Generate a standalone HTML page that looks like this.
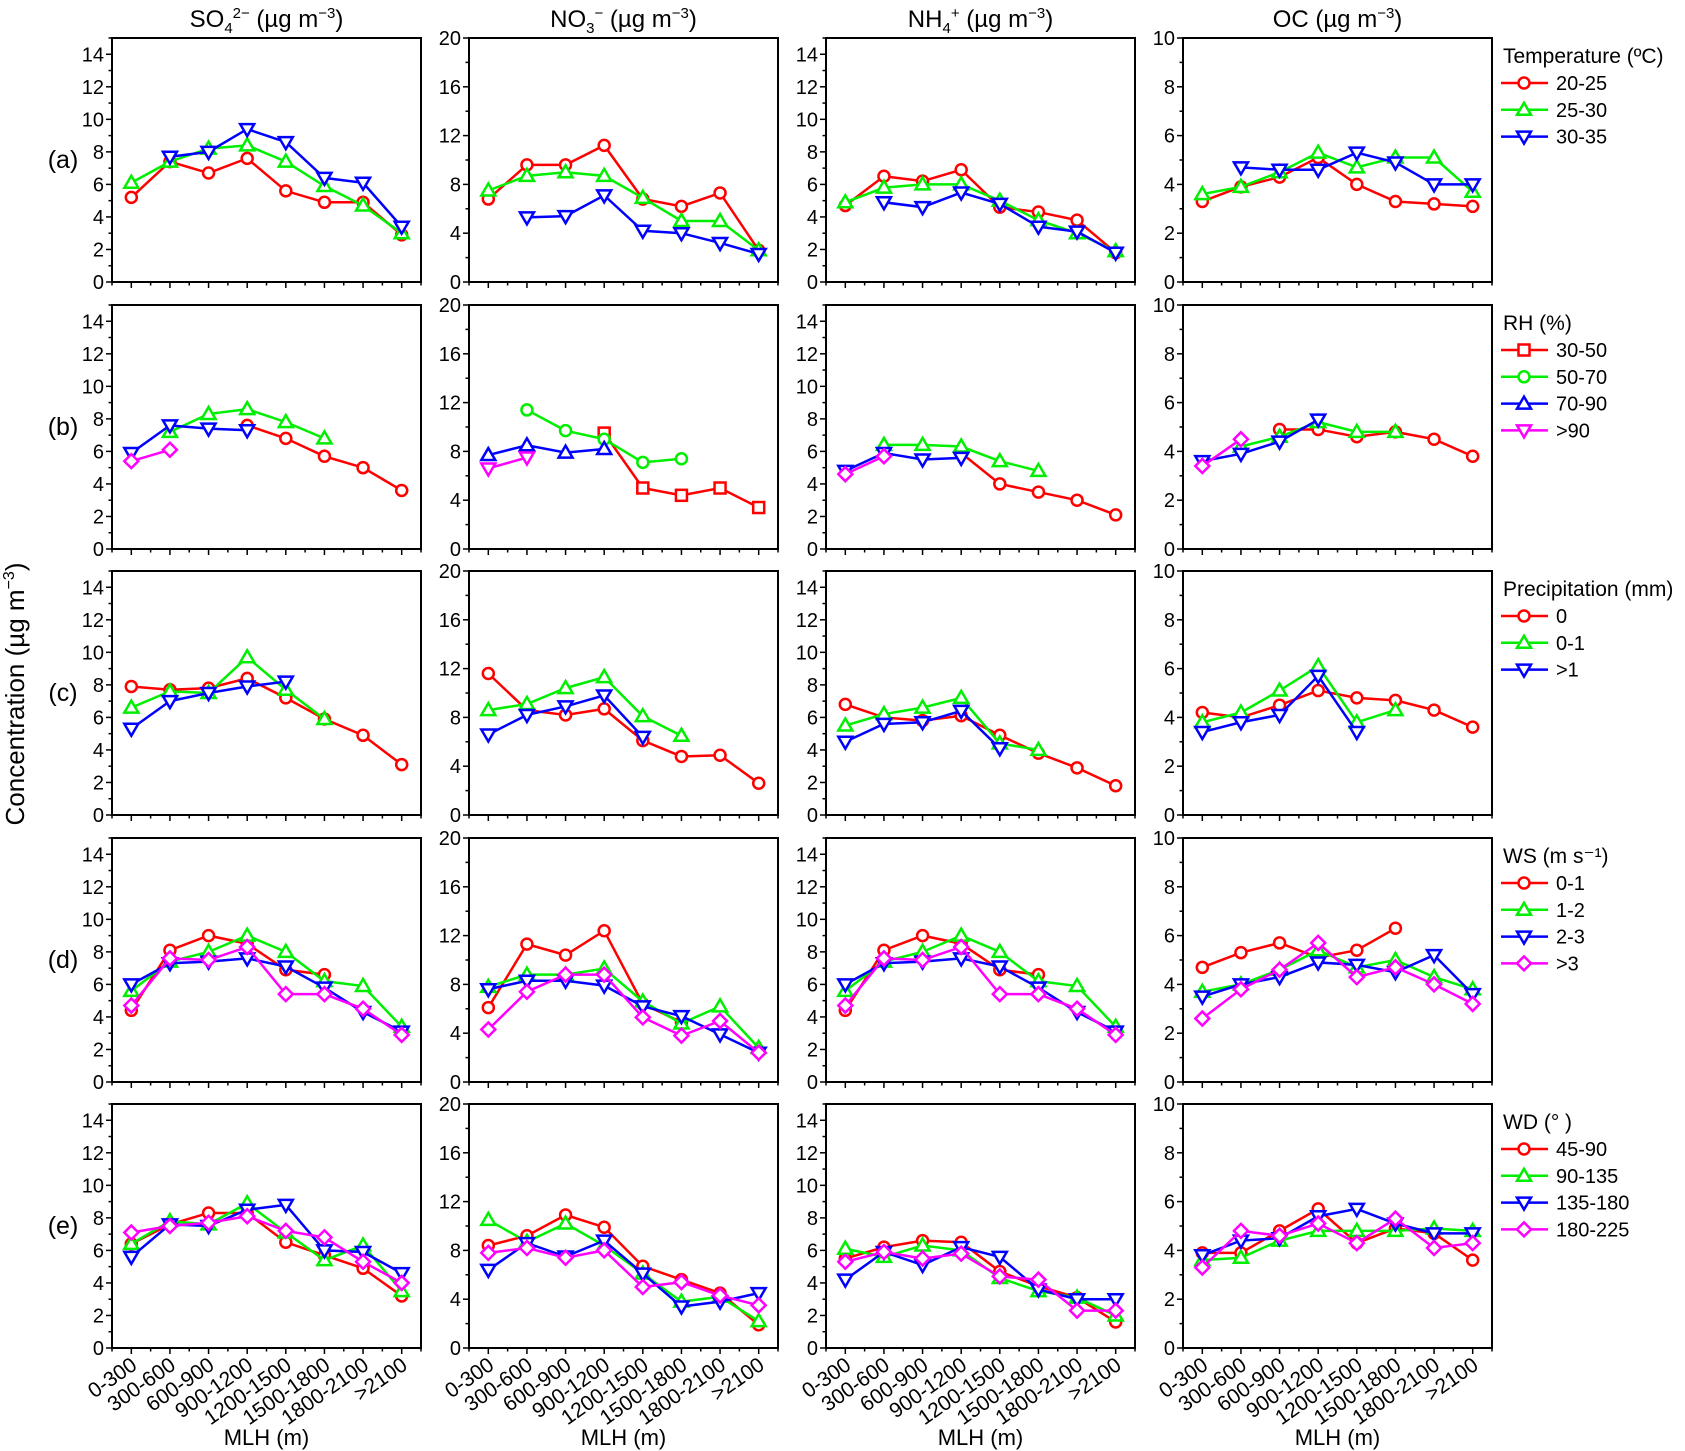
<!DOCTYPE html>
<html><head><meta charset="utf-8">
<style>
html,body{margin:0;padding:0;background:#fff;}
svg{display:block;font-family:"Liberation Sans",Arial,sans-serif;}
</style></head>
<body>
<svg id="fig" width="1685" height="1451" viewBox="0 0 1685 1451" xmlns="http://www.w3.org/2000/svg"></svg>
<script>
const categories = ["0-300","300-600","600-900","900-1200","1200-1500","1500-1800","1800-2100",">2100"];
const N = null;
// Row a: temperature
const a_so4_1 = [5.2,7.4,6.7,7.6,5.6,4.9,4.9,2.9];
const a_so4_2 = [6.1,7.4,8.2,8.4,7.4,5.9,4.7,3.0];
const a_so4_3 = [N,7.7,8.0,9.4,8.6,6.4,6.1,3.4];
const a_no3_1 = [6.8,9.6,9.6,11.2,6.8,6.2,7.3,2.6];
const a_no3_2 = [7.5,8.7,9.0,8.7,6.9,5.0,5.0,2.6];
const a_no3_3 = [N,5.3,5.4,7.1,4.2,4.0,3.2,2.3];
const a_nh4_1 = [4.7,6.5,6.2,6.9,4.6,4.3,3.8,1.8];
const a_nh4_2 = [4.9,5.8,6.0,6.0,5.0,3.8,3.0,1.9];
const a_nh4_3 = [N,4.9,4.6,5.5,4.8,3.4,3.1,1.8];
const a_oc_1 = [3.3,3.9,4.3,5.1,4.0,3.3,3.2,3.1];
const a_oc_2 = [3.6,3.9,4.5,5.3,4.7,5.1,5.1,3.7];
const a_oc_3 = [N,4.7,4.6,4.6,5.3,4.9,4.0,4.0];
// Row b: RH
const b_so4_1 = [N,N,N,7.6,6.8,5.7,5.0,3.6];
const b_so4_2 = [N,7.2,8.3,8.6,7.8,6.8,N,N];
const b_so4_3 = [5.9,7.6,7.4,7.3,N,N,N,N];
const b_so4_4 = [5.4,6.1,N,N,N,N,N,N];
const b_no3_1 = [N,N,N,9.5,5.0,4.4,5.0,3.4];
const b_no3_2 = [N,11.4,9.7,9.0,7.1,7.4,N,N];
const b_no3_3 = [7.7,8.5,7.9,8.2,N,N,N,N];
const b_no3_4 = [6.6,7.5,N,N,N,N,N,N];
const b_nh4_1 = [N,N,N,5.9,4.0,3.5,3.0,2.1];
const b_nh4_2 = [N,6.4,6.4,6.3,5.4,4.8,N,N];
const b_nh4_3 = [4.8,5.9,5.5,5.6,N,N,N,N];
const b_nh4_4 = [4.6,5.7,N,N,N,N,N,N];
const b_oc_1 = [N,N,4.9,4.9,4.6,4.8,4.5,3.8];
const b_oc_2 = [N,4.2,4.6,5.2,4.8,4.8,N,N];
const b_oc_3 = [3.6,3.9,4.4,5.3,N,N,N,N];
const b_oc_4 = [3.4,4.5,N,N,N,N,N,N];
// Row c: precipitation
const c_so4_1 = [7.9,7.7,7.8,8.4,7.2,5.9,4.9,3.1];
const c_so4_2 = [6.6,7.6,7.5,9.7,7.7,5.9,N,N];
const c_so4_3 = [5.3,7.0,7.5,7.9,8.2,N,N,N];
const c_no3_1 = [11.6,8.6,8.2,8.7,6.1,4.8,4.9,2.6];
const c_no3_2 = [8.6,9.1,10.4,11.3,8.1,6.5,N,N];
const c_no3_3 = [6.6,8.2,8.9,9.8,6.4,N,N,N];
const c_nh4_1 = [6.8,6.0,5.8,6.1,4.9,3.8,2.9,1.8];
const c_nh4_2 = [5.5,6.2,6.6,7.2,4.4,4.0,N,N];
const c_nh4_3 = [4.5,5.6,5.7,6.4,4.1,N,N,N];
const c_oc_1 = [4.2,4.0,4.5,5.1,4.8,4.7,4.3,3.6];
const c_oc_2 = [3.8,4.2,5.1,6.1,3.8,4.3,N,N];
const c_oc_3 = [3.4,3.8,4.1,5.7,3.4,N,N,N];
// Row d: wind speed
const d_so4_1 = [4.4,8.1,9.0,8.5,6.9,6.6,N,N];
const d_so4_2 = [5.6,7.4,8.0,9.0,8.0,6.2,5.9,3.4];
const d_so4_3 = [6.0,7.3,7.4,7.6,7.1,5.8,4.3,3.1];
const d_so4_4 = [4.7,7.6,7.5,8.3,5.4,5.4,4.5,2.9];
const d_no3_1 = [6.1,11.3,10.4,12.4,6.4,4.9,N,N];
const d_no3_2 = [7.8,8.8,8.8,9.3,6.6,4.8,6.2,2.8];
const d_no3_3 = [7.6,8.3,8.3,7.9,6.2,5.4,3.9,2.4];
const d_no3_4 = [4.3,7.4,8.8,8.8,5.3,3.8,5.0,2.4];
const d_nh4_1 = [4.4,8.1,9.0,8.5,6.9,6.6,N,N];
const d_nh4_2 = [5.6,7.4,8.0,9.0,8.0,6.2,5.9,3.4];
const d_nh4_3 = [6.0,7.3,7.4,7.6,7.1,5.8,4.3,3.1];
const d_nh4_4 = [4.7,7.6,7.5,8.3,5.4,5.4,4.5,2.9];
const d_oc_1 = [4.7,5.3,5.7,5.1,5.4,6.3,N,N];
const d_oc_2 = [3.7,4.0,4.6,5.4,4.7,5.0,4.3,3.8];
const d_oc_3 = [3.5,4.0,4.3,4.9,4.8,4.5,5.2,3.6];
const d_oc_4 = [2.6,3.8,4.6,5.7,4.3,4.7,4.0,3.2];
// Row e: wind direction
const e_so4_1 = [6.4,7.6,8.3,8.3,6.5,5.7,4.9,3.2];
const e_so4_2 = [6.4,7.8,7.6,8.9,7.1,5.4,6.3,3.5];
const e_so4_3 = [5.6,7.6,7.5,8.5,8.8,6.0,5.9,4.6];
const e_so4_4 = [7.1,7.5,7.7,8.1,7.2,6.8,5.3,4.0];
const e_no3_1 = [8.4,9.2,10.9,9.9,6.7,5.6,4.5,1.9];
const e_no3_2 = [10.5,8.7,10.2,8.4,6.1,3.8,4.2,2.2];
const e_no3_3 = [6.4,8.6,7.5,8.8,6.1,3.4,3.8,4.5];
const e_no3_4 = [7.8,8.2,7.4,8.0,5.0,5.4,4.3,3.5];
const e_nh4_1 = [5.5,6.2,6.6,6.5,4.7,3.8,3.1,1.6];
const e_nh4_2 = [6.1,5.6,6.3,6.0,4.3,3.5,3.1,2.0];
const e_nh4_3 = [4.2,5.9,5.1,6.2,5.6,3.6,3.0,3.0];
const e_nh4_4 = [5.3,5.9,5.5,5.8,4.4,4.2,2.3,2.3];
const e_oc_1 = [3.9,3.9,4.8,5.7,4.3,4.9,4.7,3.6];
const e_oc_2 = [3.6,3.7,4.4,4.8,4.8,4.8,4.9,4.8];
const e_oc_3 = [3.8,4.4,4.5,5.4,5.7,5.1,4.7,4.7];
const e_oc_4 = [3.3,4.8,4.6,5.1,4.3,5.3,4.1,4.3];

const yMaxes = [15,20,15,10];
const yTickStep = [2,4,2,2];
const yTickTop = [14,20,14,10];
const rowLetters = ["(a)","(b)","(c)","(d)","(e)"];
const legendTitles = ["Temperature (ºC)","RH (%)","Precipitation (mm)","WS (m s\u207B\u00B9)","WD (° )"];
const legendLabels = [["20-25","25-30","30-35"],["30-50","50-70","70-90",">90"],["0","0-1",">1"],["0-1","1-2","2-3",">3"],["45-90","90-135","135-180","180-225"]];

const COLORS=["#ff0000","#00ee00","#0000ff","#ff00ff"];
const colL=[112,469,826,1183], W=309;
const rowT=[38,305,571,838,1104], H=244;
const svg=document.getElementById('fig');
const NS="http://www.w3.org/2000/svg";
function mk(tag,attrs,parent){const e=document.createElementNS(NS,tag);for(const k in attrs)e.setAttribute(k,attrs[k]);(parent||svg).appendChild(e);return e;}

function marker(g,shape,x,y,color){
  const r=5.5;let m;
  if(shape==='o') m=mk('circle',{cx:x,cy:y,r:r},g);
  else if(shape==='s') m=mk('rect',{x:x-r,y:y-r,width:2*r,height:2*r},g);
  else if(shape==='u') m=mk('polygon',{points:`${x},${y-7} ${x-7},${y+5} ${x+7},${y+5}`},g);
  else if(shape==='d') m=mk('polygon',{points:`${x},${y+7} ${x-7},${y-5} ${x+7},${y-5}`},g);
  else m=mk('polygon',{points:`${x},${y-7} ${x+7},${y} ${x},${y+7} ${x-7},${y}`},g);
  m.setAttribute('fill','#fff');m.setAttribute('stroke',color);m.setAttribute('stroke-width','2.5');
  return m;
}

const panels=[
 [[a_so4_1,a_so4_2,a_so4_3],[a_no3_1,a_no3_2,a_no3_3],[a_nh4_1,a_nh4_2,a_nh4_3],[a_oc_1,a_oc_2,a_oc_3]],
 [[b_so4_1,b_so4_2,b_so4_3,b_so4_4],[b_no3_1,b_no3_2,b_no3_3,b_no3_4],[b_nh4_1,b_nh4_2,b_nh4_3,b_nh4_4],[b_oc_1,b_oc_2,b_oc_3,b_oc_4]],
 [[c_so4_1,c_so4_2,c_so4_3],[c_no3_1,c_no3_2,c_no3_3],[c_nh4_1,c_nh4_2,c_nh4_3],[c_oc_1,c_oc_2,c_oc_3]],
 [[d_so4_1,d_so4_2,d_so4_3,d_so4_4],[d_no3_1,d_no3_2,d_no3_3,d_no3_4],[d_nh4_1,d_nh4_2,d_nh4_3,d_nh4_4],[d_oc_1,d_oc_2,d_oc_3,d_oc_4]],
 [[e_so4_1,e_so4_2,e_so4_3,e_so4_4],[e_no3_1,e_no3_2,e_no3_3,e_no3_4],[e_nh4_1,e_nh4_2,e_nh4_3,e_nh4_4],[e_oc_1,e_oc_2,e_oc_3,e_oc_4]]
];
const rowShapes=[["o","u","d"],["o","u","d","D"],["o","u","d"],["o","u","d","D"],["o","u","d","D"]];
const legShapes=[["o","u","d"],["s","o","u","d"],["o","u","d"],["o","u","d","D"],["o","u","d","D"]];
const noShapesB=["s","o","u","d"];

const colNames=["so4","no3","nh4","oc"];
for(let r=0;r<5;r++){
  for(let c=0;c<4;c++){
    const L=colL[c],T=rowT[r],B=T+H,R=L+W,ymax=yMaxes[c];
    const xs=i=>L+(i+0.5)*W/categories.length;
    const ys=v=>B-v/ymax*H;
    const g=mk('g',{});
    
    
    const st=yTickStep[c];
    for(let v=0;v<=ymax;v+=st/2){
      const y=ys(v);const major=Math.abs(v/st-Math.round(v/st))<1e-9;
      mk('line',{x1:L,x2:L-(major?6:3.5),y1:y,y2:y,stroke:'#000','stroke-width':1.5},g);
      if(major&&v<=yTickTop[c]){const t=mk('text',{x:L-8,y:y+7,'text-anchor':'end','font-size':20},g);t.textContent=v;
        }
    }
    for(let i=0;i<categories.length;i++){
      const x=xs(i);mk('line',{x1:x,x2:x,y1:B,y2:B+6,stroke:'#000','stroke-width':1.5},g);
    }
    for(let i=0;i<=categories.length;i++){
      const x=L+i*W/categories.length;mk('line',{x1:x,x2:x,y1:B,y2:B+3.5,stroke:'#000','stroke-width':1.5},g);
    }
    if(r===4){
      for(let i=0;i<categories.length;i++){
        const x=xs(i)+7,y=B+20;
        const t=mk('text',{x:x,y:y,'text-anchor':'end','font-size':21,transform:`rotate(-35 ${x} ${y})`},g);
        t.textContent=categories[i];
        
      }
      const t=mk('text',{x:L+W/2,y:1445,'text-anchor':'middle','font-size':22},g);t.textContent='MLH (m)';
      
    }
    const series=panels[r][c];
    const shapes=(r===1&&c===1)?noShapesB:rowShapes[r];
    series.forEach((arr,si)=>{
      const sg=mk('g',{},g);
      
      
      let seg=[];const segs=[];
      arr.forEach((v,i)=>{if(v===null){if(seg.length)segs.push(seg);seg=[];}else seg.push([xs(i),ys(v)]);});
      if(seg.length)segs.push(seg);
      segs.forEach(s=>mk('polyline',{points:s.map(p=>p.join(',')).join(' '),fill:'none',stroke:COLORS[si],'stroke-width':2.5},sg));
      arr.forEach((v,i)=>{if(v!==null){const m=marker(sg,shapes[si],xs(i),ys(v),COLORS[si]);
        }});
    });
    mk('rect',{x:L,y:T,width:W,height:H,fill:'none',stroke:'#000','stroke-width':2},g);
  }
  const rl=mk('text',{x:63,y:rowT[r]+H*0.5+8,'text-anchor':'middle','font-size':25});
  rl.textContent=rowLetters[r];
  
  const lg=mk('g',{});
  
  
  const lt=mk('text',{x:1503,y:rowT[r]+25,'font-size':21},lg);lt.textContent=legendTitles[r];
  
  legendLabels[r].forEach((lab,i)=>{
    const y=rowT[r]+45+i*26.8;
    const e=mk('g',{},lg);
    
    
    mk('line',{x1:1501,x2:1548,y1:y,y2:y,stroke:COLORS[i],'stroke-width':2.5},e);
    marker(e,legShapes[r][i],1524,y,COLORS[i]);
    const t=mk('text',{x:1556,y:y+7,'font-size':20},e);t.textContent=lab;
  });
}
const titles=[["SO","4","2\u2212"],["NO","3","\u2212"],["NH","4","+"],["OC","",""]];
titles.forEach((tt,c)=>{
  const t=mk('text',{x:colL[c]+W/2,y:27,'text-anchor':'middle','font-size':24});
  
  const a=mk('tspan',{},t);a.textContent=tt[0];
  if(tt[1]){const s=mk('tspan',{'font-size':15,dy:6},t);s.textContent=tt[1];
    const p=mk('tspan',{'font-size':15,dy:-15},t);p.textContent=tt[2];
    const b=mk('tspan',{dy:9},t);b.textContent=' (\u00B5g m';}
  else{const b=mk('tspan',{},t);b.textContent=' (\u00B5g m';}
  const e=mk('tspan',{'font-size':15,dy:-9},t);e.textContent='\u22123';
  const cl=mk('tspan',{dy:9},t);cl.textContent=')';
});
const yt=mk('text',{x:0,y:0,'text-anchor':'middle','font-size':26,transform:'translate(24 694) rotate(-90)'});

const y1=mk('tspan',{},yt);y1.textContent='Concentration (\u00B5g m';
const y2=mk('tspan',{'font-size':16,dy:-10},yt);y2.textContent='\u22123';
const y3=mk('tspan',{dy:10},yt);y3.textContent=')';
</script>
</body></html>
